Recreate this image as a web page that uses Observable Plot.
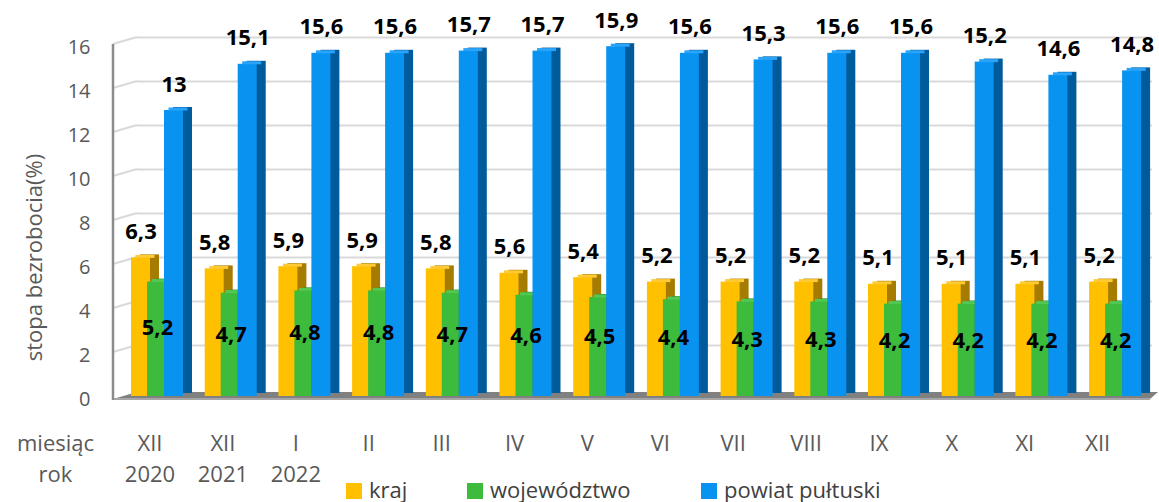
<!DOCTYPE html>
<html>
<head>
<meta charset="utf-8">
<script src="https://cdn.jsdelivr.net/npm/d3@7"></script>
<script src="https://cdn.jsdelivr.net/npm/@observablehq/plot@0.6"></script>
<style>
  html, body { margin: 0; padding: 0; background: #fff; }
  #wrap { width: 1159px; height: 502px; position: relative; font-family: "Open Sans", sans-serif; }
  #legend { position: relative; width: 1159px; height: 32px; }
  .sw { position: absolute; top: 13px; width: 16px; height: 16px; }
  .lt { position: absolute; top: 6px; font-size: 22px; line-height: 26px; color: #404040; white-space: nowrap; }
</style>
</head>
<body>
<div id="wrap"></div>
<script>
// ---- data ----
const months = ["XII","XII","I","II","III","IV","V","VI","VII","VIII","IX","X","XI","XII"];
const years  = ["2020","2021","2022","","","","","","","","","","",""];
const kraj        = [6.3,5.8,5.9,5.9,5.8,5.6,5.4,5.2,5.2,5.2,5.1,5.1,5.1,5.2];
const wojewodztwo = [5.2,4.7,4.8,4.8,4.7,4.6,4.5,4.4,4.3,4.3,4.2,4.2,4.2,4.2];
const powiat      = [13,15.1,15.6,15.6,15.7,15.7,15.9,15.6,15.3,15.6,15.6,15.2,14.6,14.8];
const seriesNames = ["kraj","województwo","powiat pułtuski"];
const yTicks = [0,2,4,6,8,10,12,14,16];
const yTitle = "stopa bezrobocia(%)";
const xTitle = "miesiąc\nrok";

// ---- build ----
const categories = months.map((m, i) => years[i] ? m + "\n" + years[i] : m);
const fmt = v => String(v).replace(".", ",");

const styles = [
  {front: "#FFC000", side: "#A67C00", top: "#FFCA33", insetLeft: 10.85, insetRight: 43.85},
  {front: "#3DBB3D", side: "#2A8A2A", top: "#52C852", insetLeft: 26.85, insetRight: 29.85},
  {front: "#0893F0", side: "#005B9C", top: "#2AA4FA", insetLeft: 43.85, insetRight: 10.85}
];
const seriesValues = [kraj, wojewodztwo, powiat];
const rows = seriesValues.map(vals => vals.map((v, i) => ({cat: categories[i], v})));

const bars = [];
rows.forEach((r, s) => {
  const st = styles[s];
  bars.push(Plot.barY(r, {x: "cat", y: "v", fill: st.side, insetLeft: st.insetLeft, insetRight: st.insetRight, dx: 9, dy: -3}));
  bars.push(Plot.barY(r, {x: "cat", y: "v", fill: st.front, insetLeft: st.insetLeft, insetRight: st.insetRight}));
  bars.push(Plot.tickY(r, {x: "cat", y: "v", stroke: st.top, strokeWidth: 3, insetLeft: st.insetLeft, insetRight: st.insetRight, dx: 4.5, dy: -1.5}));
});

const decor = (index, scales, values, dims) => {
  const g = d3.create("svg:g");
  const y = scales.y;
  const L = dims.marginLeft;
  const R = dims.width - dims.marginRight;
  const y0 = y(0);
  // floor
  g.append("path")
    .attr("d", `M${L},${y0 + 3}L${R - 2},${y0 + 3}L${dims.width - 1},${y0 - 4}L${L + 24},${y0 - 4}Z`)
    .attr("fill", "#808080");
  g.append("line").attr("x1", L).attr("x2", R - 2).attr("y1", y0 + 3).attr("y2", y0 + 3)
    .attr("stroke", "#a6a6a6").attr("stroke-width", 2);
  // left wall gridlines
  yTicks.filter(t => t > 0).forEach(t => {
    g.append("line").attr("x1", L).attr("y1", y(t)).attr("x2", L + 24).attr("y2", y(t) - 7)
      .attr("stroke", "#d9d9d9").attr("stroke-width", 2);
  });
  // axis line
  g.append("line").attr("x1", L).attr("x2", L).attr("y1", y(yTicks[yTicks.length - 1])).attr("y2", y0 + 4)
    .attr("stroke", "#8c8c8c").attr("stroke-width", 2.5);
  return g.node();
};

const xLabels = categories.map((c, i) => Plot.text([c], {
  x: d => d, text: d => d, frameAnchor: "bottom", lineAnchor: "top", textAnchor: "middle",
  dy: 32, dx: -7.5 - 0.8 * i, fontSize: 22, lineHeight: 1.41, fill: "#595959"
}));

const chart = Plot.plot({
  width: 1159,
  height: 470,
  marginLeft: 113,
  marginRight: 7,
  marginTop: 44,
  marginBottom: 74,
  style: {fontFamily: "Open Sans", overflow: "visible", background: "#fff"},
  x: {domain: categories, range: [120.15, 1151.95], padding: 0, round: false, axis: null},
  y: {domain: [0, 16], axis: null},
  marks: [
    Plot.ruleY(yTicks.filter(t => t > 0), {y: d => d, dy: -7, stroke: "#d9d9d9", strokeWidth: 2, insetLeft: 24}),
    decor,
    ...bars,
    Plot.text(rows[0], {x: "cat", y: "v", text: d => fmt(d.v), dx: -16.5, dy: -26, fontSize: 22, fontWeight: "bold", fill: "#000"}),
    Plot.text(rows[1], {x: "cat", y: d => d.v * 0.6, text: d => fmt(d.v), fontSize: 22, fontWeight: "bold", fill: "#000"}),
    Plot.text(rows[2], {x: "cat", y: "v", text: d => fmt(d.v), dx: 16.5, dy: -26, fontSize: 22, fontWeight: "bold", fill: "#000"}),
    Plot.text(yTicks, {y: d => d, text: d => String(d), frameAnchor: "left", textAnchor: "end", dx: -23, dy: 3.5, fontSize: 20, fill: "#595959"}),
    Plot.text([yTitle], {text: d => d, frameAnchor: "left", textAnchor: "middle", rotate: -90, dx: -79, dy: 37, fontSize: 22, fill: "#595959"}),
    Plot.text([xTitle], {text: d => d, frameAnchor: "bottom-left", textAnchor: "middle", dx: -58, dy: 32, lineAnchor: "top", lineHeight: 1.41, fontSize: 22, fill: "#595959"}),
    ...xLabels
  ]
});

const wrap = document.getElementById("wrap");
wrap.appendChild(chart);

const legend = document.createElement("div");
legend.id = "legend";
const legendPos = [{sq: 346, tx: 369}, {sq: 467, tx: 490}, {sq: 701, tx: 724}];
seriesNames.forEach((name, s) => {
  const sw = document.createElement("div");
  sw.className = "sw";
  sw.style.left = legendPos[s].sq + "px";
  sw.style.background = styles[s].front;
  const lt = document.createElement("div");
  lt.className = "lt";
  lt.style.left = legendPos[s].tx + "px";
  lt.textContent = name;
  legend.appendChild(sw);
  legend.appendChild(lt);
});
wrap.appendChild(legend);
</script>
</body>
</html>
